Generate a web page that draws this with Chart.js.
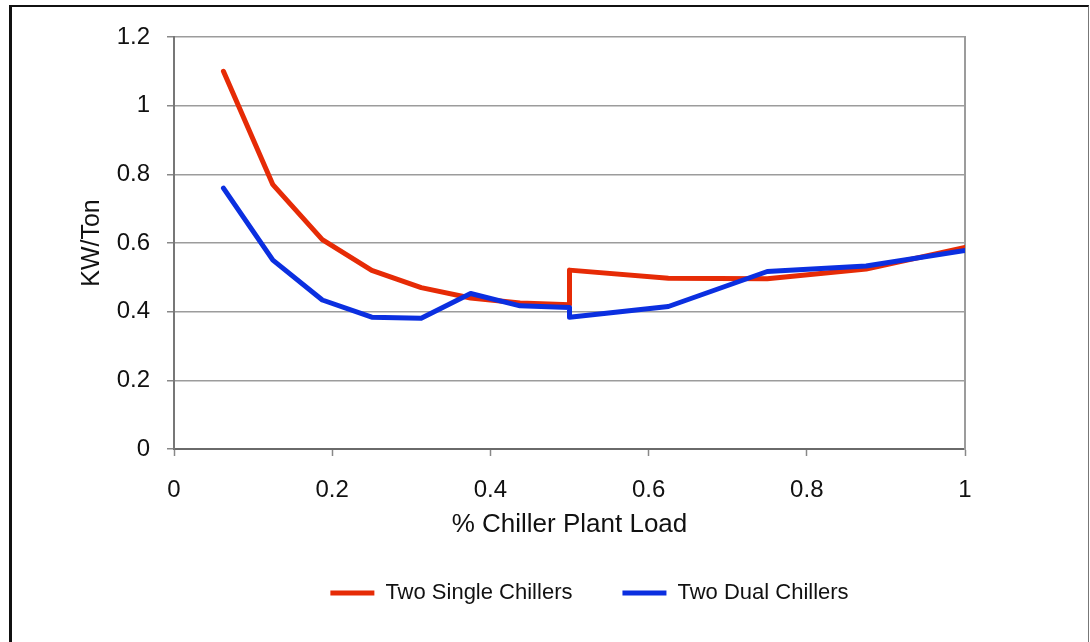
<!DOCTYPE html>
<html>
<head>
<meta charset="utf-8">
<script src="https://cdn.jsdelivr.net/npm/chart.js@4/dist/chart.umd.min.js"></script>
<style>
  html, body { margin: 0; padding: 0; background: #fff; overflow: hidden; }
  #frame {
    position: absolute; left: 9px; top: 5px; width: 1080px; height: 700px;
    box-sizing: border-box;
    border-left: 3px solid #111; border-top: 2px solid #111; border-right: 1px solid #777;
  }
  #chart { position: absolute; left: 0; top: 0; }
</style>
</head>
<body>
<div id="frame"></div>
<canvas id="chart" width="1090" height="642"></canvas>
<script>
// Fraction of total chiller plant load (0.5 appears twice: staging step)
const plantLoad = [0.0625, 0.125, 0.1875, 0.25, 0.3125, 0.375, 0.4375, 0.5, 0.5, 0.625, 0.75, 0.875, 1.0];

// KW/Ton for each configuration
const twoSingleChillers = [1.10, 0.77, 0.61, 0.52, 0.47, 0.44, 0.425, 0.42, 0.521, 0.497, 0.496, 0.524, 0.587];
const twoDualChillers   = [0.76, 0.55, 0.434, 0.384, 0.381, 0.453, 0.417, 0.412, 0.384, 0.415, 0.517, 0.533, 0.578];

const seriesNames = ['Two Single Chillers', 'Two Dual Chillers'];
const xTickLabels = ['0', '0.2', '0.4', '0.6', '0.8', '1'];
const yTickLabels = ['0', '0.2', '0.4', '0.6', '0.8', '1', '1.2'];

const FONT = '"Liberation Sans", Arial, Helvetica, sans-serif';

function toPoints(xs, ys) {
  return xs.map((x, i) => ({ x: x, y: ys[i] }));
}

// Moves the legend row so it sits centred under the plot as in the report layout
const legendNudge = {
  id: 'legendNudge',
  afterLayout(chart) {
    const lg = chart.legend;
    if (!lg) return;
    const dx = 20, dy = -8;
    lg.left += dx; lg.right += dx;
    lg.top += dy; lg.bottom += dy;
  }
};

new Chart(document.getElementById('chart'), {
  type: 'scatter',
  data: {
    datasets: [
      {
        label: seriesNames[0],
        data: toPoints(plantLoad, twoSingleChillers),
        showLine: true,
        borderColor: '#e62b06',
        backgroundColor: '#e62b06',
        borderWidth: 5,
        pointRadius: 0,
        pointHoverRadius: 0,
        pointStyle: 'line',
        borderJoinStyle: 'round',
        borderCapStyle: 'round',
        tension: 0,
        order: 1
      },
      {
        label: seriesNames[1],
        data: toPoints(plantLoad, twoDualChillers),
        showLine: true,
        borderColor: '#0b2fe0',
        backgroundColor: '#0b2fe0',
        borderWidth: 5,
        pointRadius: 0,
        pointHoverRadius: 0,
        pointStyle: 'line',
        borderJoinStyle: 'round',
        borderCapStyle: 'round',
        tension: 0,
        order: 0
      }
    ]
  },
  options: {
    responsive: false,
    animation: false,
    layout: { padding: { left: 73, top: 37, right: 125, bottom: 20 } },
    plugins: {
      tooltip: { enabled: false },
      legend: {
        position: 'bottom',
        fullSize: false,
        labels: {
          usePointStyle: true,
          pointStyleWidth: 44,
          boxHeight: 4,
          padding: 50,
          color: '#111',
          font: { family: FONT, size: 22 },
          sort: (a, b) => a.datasetIndex - b.datasetIndex
        }
      }
    },
    scales: {
      x: {
        type: 'linear',
        min: 0,
        max: 1,
        afterFit: (scale) => { scale.height = 91; },
        ticks: {
          stepSize: 0.2,
          padding: 20,
          color: '#111',
          font: { family: FONT, size: 24 },
          callback: (v, i) => xTickLabels[i]
        },
        grid: {
          display: true,
          drawOnChartArea: false,
          drawTicks: true,
          tickLength: 7,
          tickColor: '#888',
          tickWidth: 1.5
        },
        border: { color: '#6a6a6a', width: 2 },
        title: {
          display: true,
          text: '% Chiller Plant Load',
          color: '#111',
          font: { family: FONT, size: 26 },
          padding: { top: 8, bottom: 0 }
        }
      },
      y: {
        type: 'linear',
        min: 0,
        max: 1.2,
        afterFit: (scale) => { scale.width = 101; },
        ticks: {
          stepSize: 0.2,
          padding: 17,
          color: '#111',
          font: { family: FONT, size: 24 },
          callback: (v, i) => yTickLabels[i]
        },
        grid: {
          color: '#9c9c9c',
          lineWidth: 1.5,
          drawTicks: true,
          tickLength: 7,
          tickColor: '#888',
          tickWidth: 1.5
        },
        border: { color: '#777', width: 2 },
        title: {
          display: true,
          text: 'KW/Ton',
          color: '#111',
          font: { family: FONT, size: 25 },
          padding: { top: 4, bottom: 4 }
        }
      },
      yRight: {
        type: 'linear',
        position: 'right',
        min: 0,
        max: 1.2,
        afterFit: (scale) => { scale.width = 0; },
        ticks: { display: false },
        grid: { display: false },
        border: { color: '#9c9c9c', width: 2 }
      }
    }
  },
  plugins: [legendNudge]
});
</script>
</body>
</html>
